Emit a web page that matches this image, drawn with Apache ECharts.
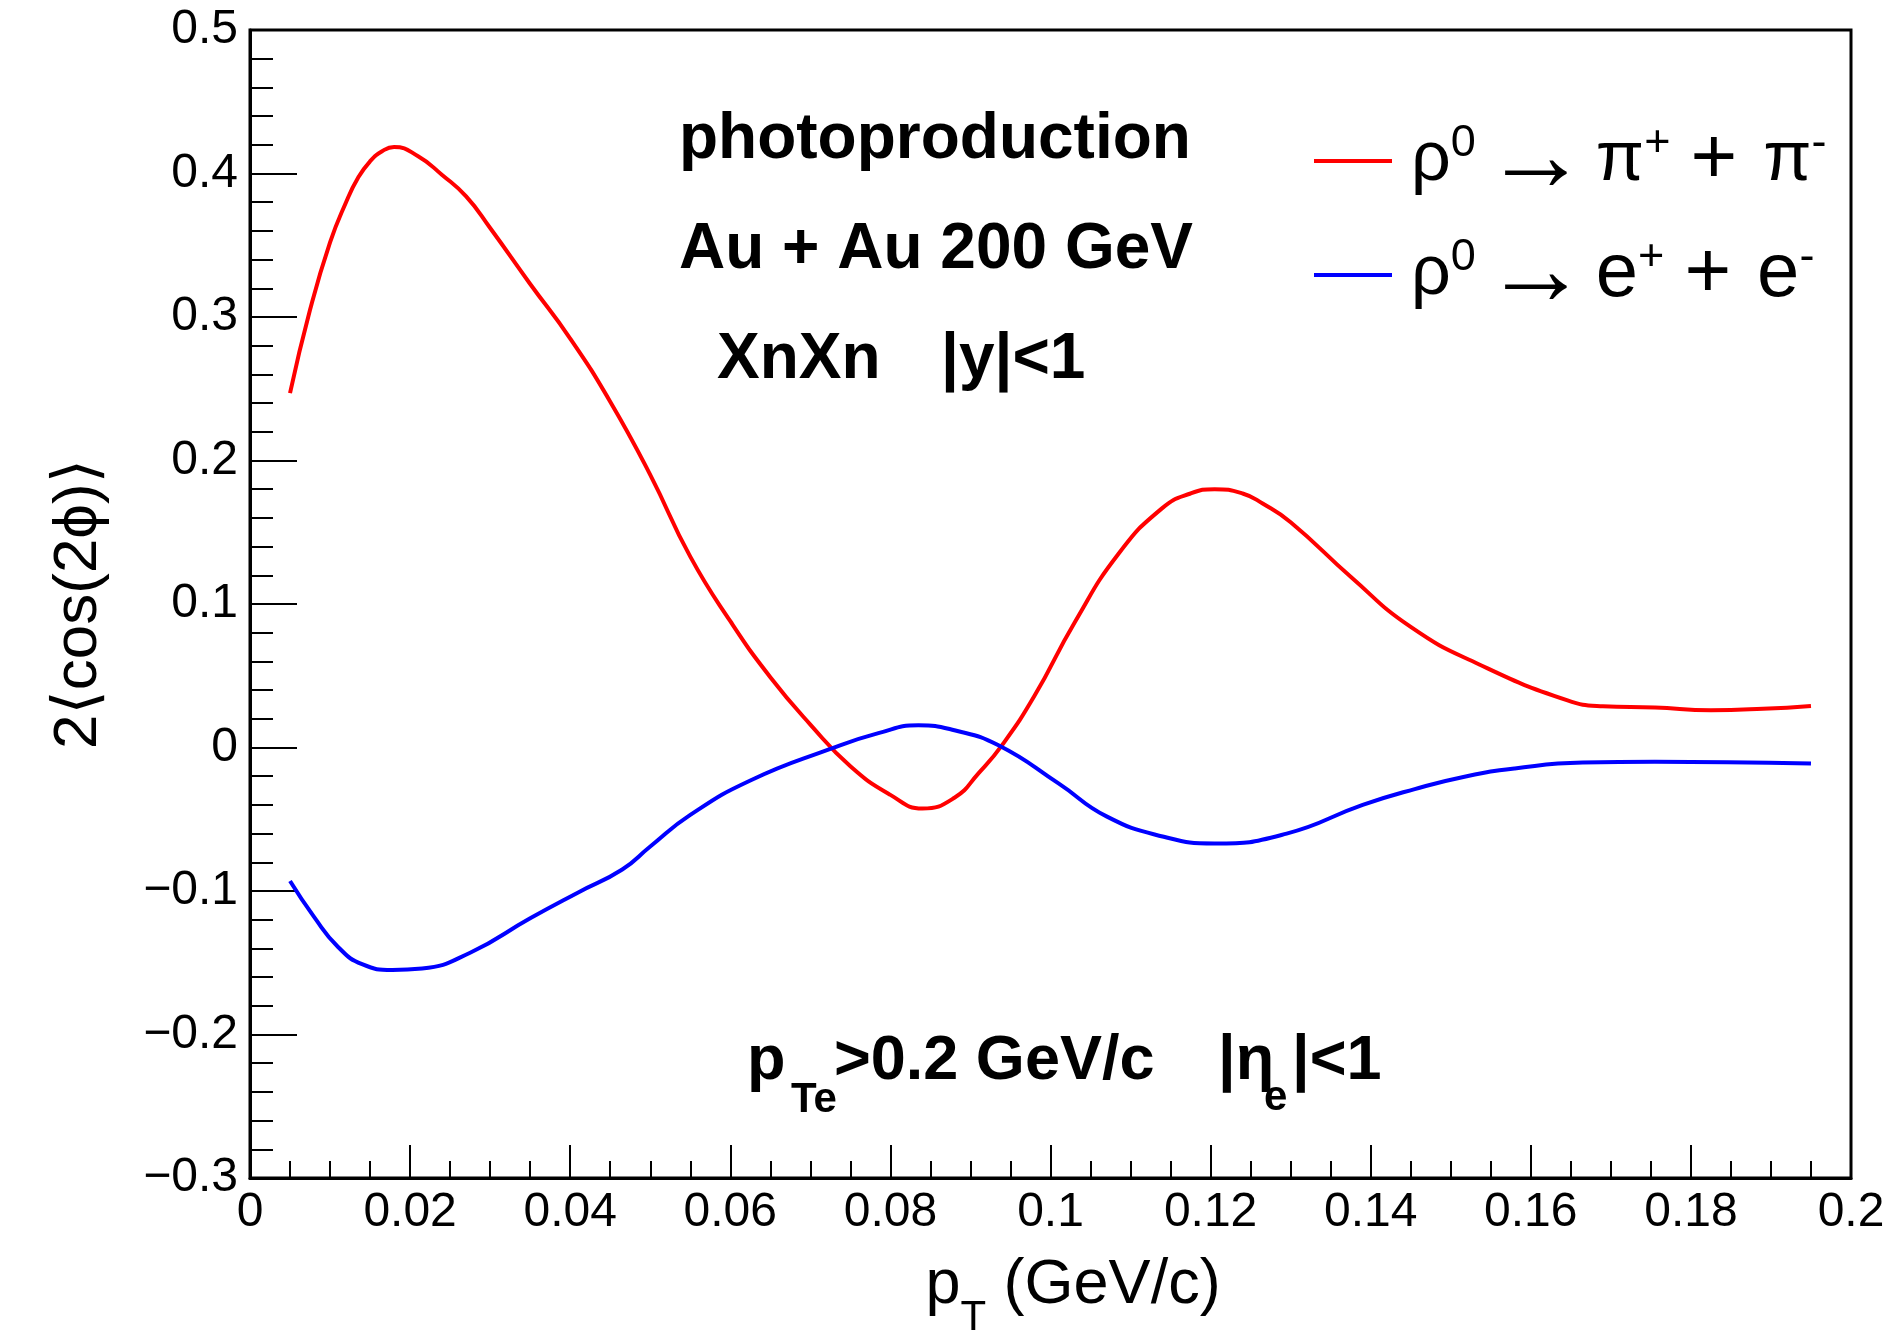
<!DOCTYPE html>
<html><head><meta charset="utf-8">
<script src="https://cdn.jsdelivr.net/npm/echarts@6/dist/echarts.min.js"></script>
<style>html,body{margin:0;padding:0;background:#fff}#c{width:1890px;height:1331px}</style>
</head><body><div id="c"></div>
<script>
// ---- data ----
const pionName = 'rho0 -> pi+ + pi-';
const elecName = 'rho0 -> e+ + e-';
const pionPt = [0.005,0.0075,0.010,0.012,0.0135,0.015,0.0165,0.018,0.021,0.024,0.027,0.030,0.035,0.040,0.045,0.050,0.055,0.060,0.065,0.070,0.075,0.080,0.084,0.088,0.091,0.094,0.098,0.103,0.1085,0.114,0.1175,0.1205,0.124,0.1265,0.130,0.1375,0.145,0.1535,0.1645,0.169,0.1755,0.1825,0.189,0.195];
const pionV  = [0.247,0.305,0.352,0.380,0.397,0.4085,0.4155,0.4185,0.412,0.399,0.384,0.362,0.323,0.285,0.241,0.190,0.133,0.088,0.049,0.016,-0.013,-0.033,-0.0425,-0.035,-0.018,0.002,0.036,0.087,0.135,0.167,0.177,0.180,0.177,0.170,0.157,0.119,0.084,0.058,0.033,0.0288,0.0279,0.026,0.027,0.029];
const elecPt = [0.005,0.008,0.011,0.014,0.0178,0.0215,0.0275,0.035,0.041,0.0465,0.050,0.055,0.0625,0.0725,0.0785,0.0835,0.088,0.0935,0.101,0.107,0.114,0.1205,0.1295,0.139,0.1455,0.152,0.158,0.1665,0.1755,0.1845,0.195];
const elecV  = [-0.093,-0.118,-0.139,-0.151,-0.155,-0.154,-0.143,-0.119,-0.101,-0.085,-0.069,-0.047,-0.023,-0.001,0.010,0.0155,0.012,0.0016,-0.025,-0.048,-0.062,-0.0669,-0.060,-0.040,-0.029,-0.020,-0.0146,-0.0105,-0.010,-0.0102,-0.0112];
const xRange = [0, 0.2], xStep = 0.02;
const yRange = [-0.3, 0.5], yStep = 0.1;
const annLines = ['photoproduction', 'Au + Au 200 GeV', 'XnXn', '|y|<1'];

const FONT = '"Liberation Sans", "DejaVu Sans", sans-serif';
function fmt(v){ const s = String(+v.toFixed(4)); return v < 0 ? '\u2212' + s.replace('-', '') : s; }

const LH = 104;
const legendRich = {
  r:  {fontSize: 70, fontFamily: FONT, lineHeight: LH, padding: [0,0,0,14]},
  s:  {fontSize: 45, fontFamily: FONT, lineHeight: LH, verticalAlign: 'top', padding: [12,0,0,0]},
  ar: {fontSize: 104, fontFamily: FONT, lineHeight: LH, padding: [0,8,0,8]},
  p:  {fontSize: 70, fontFamily: FONT, lineHeight: LH},
  e:  {fontSize: 76, fontFamily: FONT, lineHeight: LH},
  pl: {fontSize: 80, fontFamily: FONT, lineHeight: LH, padding: [0,26,0,20]}
};
const legendText = {};
legendText[pionName] = '{r|ρ}{s|0}{ar|→}{p|π}{s|+}{pl|+}{p|π}{s|-}';
legendText[elecName] = '{r|ρ}{s|0}{ar|→}{e|e}{s|+}{pl|+}{e|e}{s|-}';

function txt(x, y, text, size, bold){
  return {type: 'text', x: x, y: y, silent: true,
    style: {text: text, fill: '#000', fontSize: size, fontWeight: bold ? 'bold' : 'normal',
            fontFamily: FONT, align: 'left', verticalAlign: 'middle'}};
}

const chart = echarts.init(document.getElementById('c'), null, {renderer: 'canvas'});
chart.setOption({
  animation: false,
  backgroundColor: '#fff',
  grid: {left: 250, right: 39, top: 30, bottom: 153, outerBoundsMode: 'none', containLabel: false,
         show: true, borderColor: '#000', borderWidth: 3, backgroundColor: 'transparent'},
  xAxis: {
    type: 'value', min: xRange[0], max: xRange[1], interval: xStep,
    name: '{a|p}{s|T}{a| (GeV/c)}', nameLocation: 'middle', nameGap: 54,
    nameTextStyle: {padding: [0,0,0,45], rich: {
      a: {fontSize: 63, fontFamily: FONT, lineHeight: 107, color: '#000'},
      s: {fontSize: 42, fontFamily: FONT, lineHeight: 42, verticalAlign: 'bottom', color: '#000'}}},
    axisLine: {onZero: false, lineStyle: {color: '#000', width: 3}},
    axisTick: {inside: true, length: 33, lineStyle: {color: '#000', width: 2}},
    minorTick: {show: true, splitNumber: 4, length: 17, lineStyle: {color: '#000', width: 2}},
    axisLabel: {fontSize: 48, fontFamily: FONT, color: '#000', margin: 11, formatter: fmt, showMinLabel: true, showMaxLabel: true},
    splitLine: {show: false}
  },
  yAxis: {
    type: 'value', min: yRange[0], max: yRange[1], interval: yStep,
    name: '2⟨cos(2ϕ)⟩', nameLocation: 'middle', nameGap: 140,
    nameTextStyle: {fontSize: 62, fontFamily: FONT, color: '#000'},
    axisLine: {onZero: false, lineStyle: {color: '#000', width: 3}},
    axisTick: {inside: true, length: 47, lineStyle: {color: '#000', width: 2}},
    minorTick: {show: true, splitNumber: 5, length: 23, lineStyle: {color: '#000', width: 2}},
    axisLabel: {fontSize: 48, fontFamily: FONT, color: '#000', margin: 12, formatter: fmt, showMinLabel: true, showMaxLabel: true},
    splitLine: {show: false}
  },
  legend: {
    orient: 'vertical', left: 1314, top: 109, padding: 0, itemGap: 10,
    itemWidth: 78, itemHeight: 4, icon: 'rect', selectedMode: false,
    data: [pionName, elecName],
    formatter: function(n){ return legendText[n]; },
    textStyle: {color: '#000', rich: legendRich}
  },
  series: [
    {name: pionName, type: 'line', smooth: 0.5, symbol: 'none', color: '#ff0000',
     lineStyle: {color: '#ff0000', width: 4}, data: pionPt.map((x, i) => [x, pionV[i]])},
    {name: elecName, type: 'line', smooth: 0.5, symbol: 'none', color: '#0000ff',
     lineStyle: {color: '#0000ff', width: 4}, data: elecPt.map((x, i) => [x, elecV[i]])}
  ],
  graphic: [
    txt(679, 140.5, annLines[0], 64, true),
    txt(679, 250.5, annLines[1], 64, true),
    txt(717, 360.5, annLines[2], 64, true),
    txt(941, 360.5, annLines[3], 64, true),
    txt(747, 1062, 'p', 63, true),
    txt(791, 1100, 'Te', 42, true),
    txt(834, 1062, '>0.2 GeV/c', 63, true),
    txt(1218, 1062, '|η', 63, true),
    txt(1264, 1098, 'e', 42, true),
    txt(1292, 1062, '|<1', 63, true)
  ]
});
</script>
</body></html>
